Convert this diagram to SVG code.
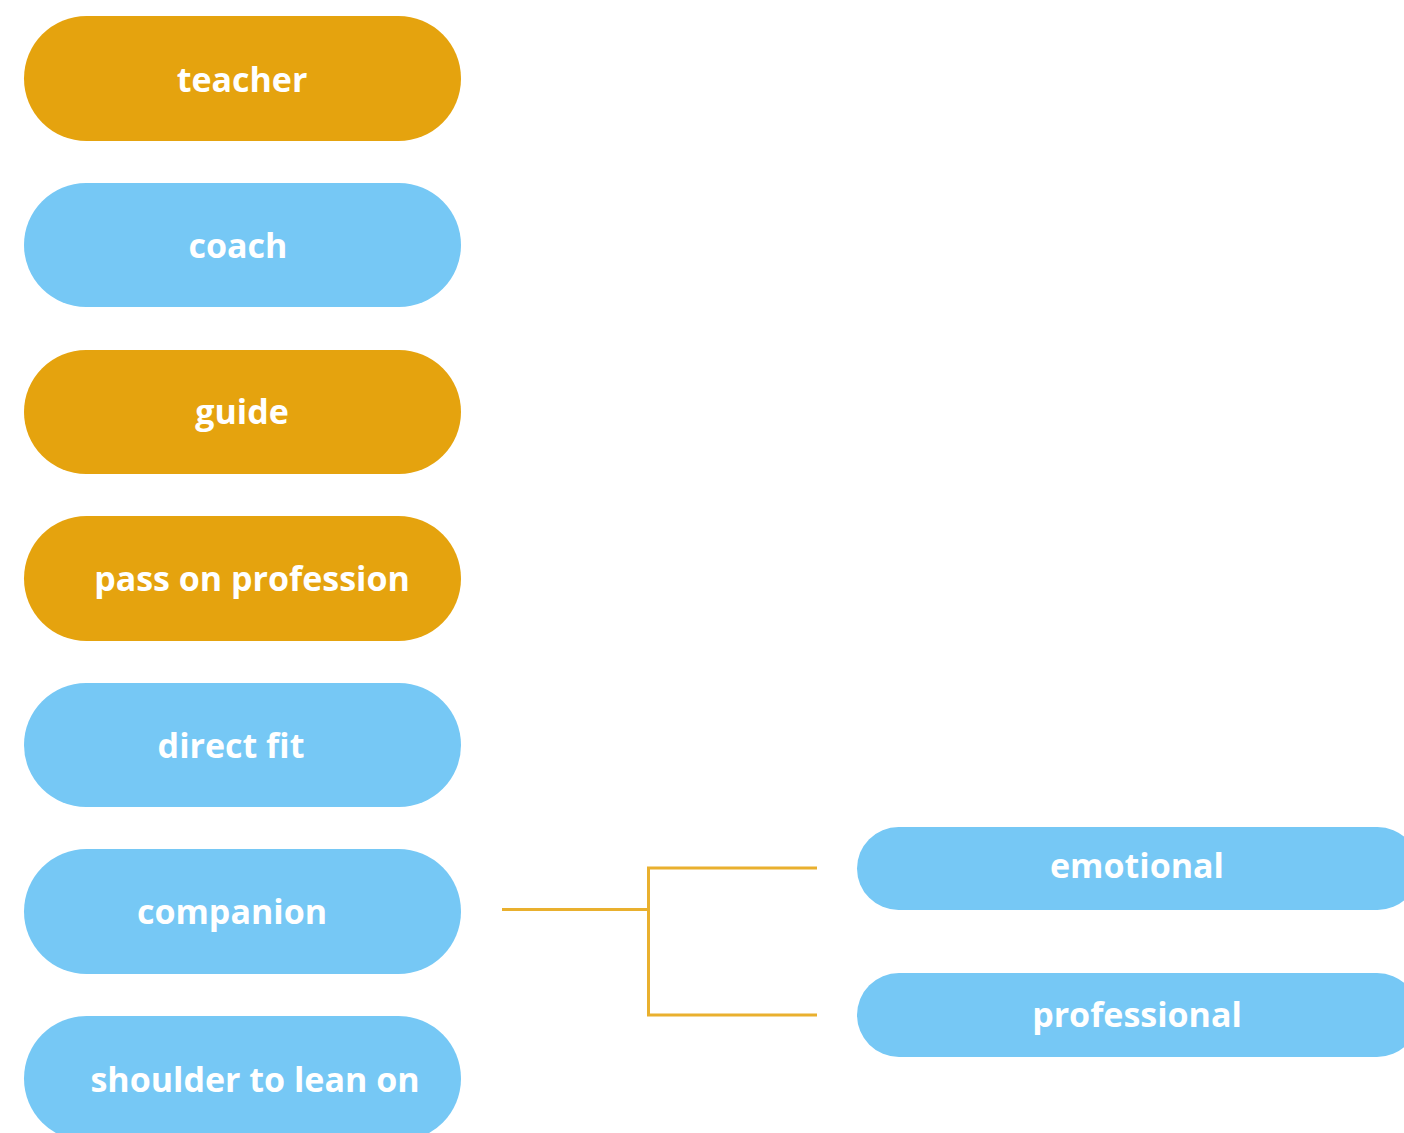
<svg xmlns="http://www.w3.org/2000/svg" width="1404" height="1133" viewBox="0 0 1404 1133">
<style>
.o{fill:#E5A30E}
.b{fill:#76C8F5}
.t{font-family:"Open Sans","Noto Sans",sans-serif;font-weight:700;font-size:34px;fill:#FFFFFF;text-anchor:middle}
.c{fill:none;stroke:#E9B02E;stroke-width:3}
</style>
<rect width="1404" height="1133" fill="#FFFFFF"/>
<g id="n-teacher"><rect class="o" x="24" y="16" width="437" height="125" rx="62.5"/><text class="t" x="242" y="92">teacher</text></g>
<g id="n-coach"><rect class="b" x="24" y="183" width="437" height="124" rx="62"/><text class="t" x="238" y="258">coach</text></g>
<g id="n-guide"><rect class="o" x="24" y="350" width="437" height="124" rx="62"/><text class="t" x="242" y="424">guide</text></g>
<g id="n-pass"><rect class="o" x="24" y="516" width="437" height="125" rx="62.5"/><text class="t" x="252" y="591">pass on profession</text></g>
<g id="n-direct"><rect class="b" x="24" y="683" width="437" height="124" rx="62"/><text class="t" x="231" y="758">direct fit</text></g>
<g id="n-companion"><rect class="b" x="24" y="849" width="437" height="125" rx="62.5"/><text class="t" x="232" y="924">companion</text></g>
<g id="n-shoulder"><rect class="b" x="24" y="1016" width="437" height="125" rx="62.5"/><text class="t" x="255" y="1092">shoulder to lean on</text></g>
<g id="n-emotional"><rect class="b" x="857" y="827" width="562" height="83" rx="41.5"/><text class="t" x="1137" y="878">emotional</text></g>
<g id="n-professional"><rect class="b" x="857" y="973" width="562" height="84" rx="42"/><text class="t" x="1137" y="1027">professional</text></g>
<g id="connectors">
<path class="c" d="M502 909.5 H648.5"/>
<path class="c" d="M817 868 H648.5 V1015 H817"/>
</g>
</svg>
